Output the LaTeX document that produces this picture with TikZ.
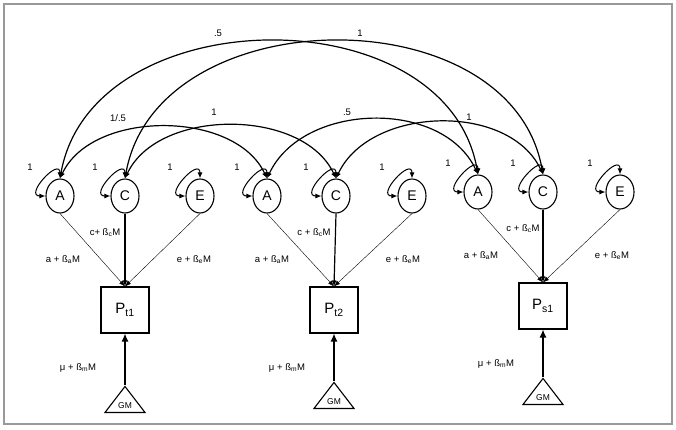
\documentclass[tikz,border=0pt]{standalone}
\usepackage{fontspec}
\setmainfont{Liberation Sans}
\usetikzlibrary{arrows.meta,shapes.geometric}

\tikzset{
  latent/.style={draw, line width=1.1pt, ellipse, minimum width=28pt, minimum height=34pt, inner sep=0pt, font=\fontsize{14}{14}\selectfont},
  pheno/.style={draw, line width=1.1pt, minimum width=48pt, minimum height=46pt, inner sep=0pt, font=\fontsize{15}{15}\selectfont},
  mittel/.style={draw, line width=1.1pt, isosceles triangle, shape border rotate=90, isosceles triangle stretches, minimum width=40pt, minimum height=26pt, inner sep=0pt, font=\fontsize{8.5}{9}\selectfont},
  cov/.style={line width=1.2pt, {Latex[length=6pt,width=5pt]}-{Latex[length=6pt,width=5pt]}},
  duenn/.style={line width=0.4pt, -{Latex[length=6pt,width=4.5pt]}},
  dick/.style={line width=1.2pt, -{Latex[length=6pt,width=5pt]}},
  mw/.style={line width=1.2pt, -{Latex[length=8pt,width=7pt]}},
  lab/.style={inner sep=0pt, font=\fontsize{9.5}{10}\selectfont},
  rahmen/.style={draw=black!40, line width=1.3pt}
}

\begin{document}
\begin{tikzpicture}[x=1pt,y=1pt]
\useasboundingbox (0,0) rectangle (676,-429);
\draw[rahmen] (4,-4) rectangle (672,-424);
% latente Faktoren A, C, E je Person
\foreach \g/\xa/\xc/\xe/\y in {1/60/125/200/196,2/267/336/412/196,3/478/543/620/192}{
  \node[latent] (A\g) at (\xa,-\y) {A};
  \node[latent] (C\g) at (\xc,-\y) {C};
  \node[latent] (E\g) at (\xe,-\y) {E};
}
% Phaenotypen und Mittelwerte
\foreach \g/\x/\y/\yb in {1/125/310/413,2/334/310/409,3/543/306/405}{
  \node[mittel, anchor=south] (GM\g) at (\x,-\yb) {GM};
}
\node[pheno] (P1) at (125,-310) {P\textsubscript{t1}};
\node[pheno] (P2) at (334,-310) {P\textsubscript{t2}};
\node[pheno] (P3) at (543,-306) {P\textsubscript{s1}};
% Varianzen und Pfade
\foreach \g/\cplus in {1/c+,2/c +,3/c +}{
  \foreach \f in {A,C,E}{
    \draw[cov, line width=1pt] (\f\g.west) to[out=180,in=90,distance=22pt] (\f\g.north);
    \path (\f\g) ++(-30,29) node[lab] (v\f\g) {1};
  }
  \draw[duenn] (A\g.south) -- (P\g.north);
  \draw[dick] (C\g.south) -- (P\g.north);
  \draw[duenn] (E\g.south) -- (P\g.north);
  \draw[mw] (GM\g.north) -- (P\g.south);
  \path (P\g) ++(-62,50) node[lab] (la\g) {a + ß\textsubscript{a}M};
  \path (P\g) ++(-20,77) node[lab] (lc\g) {\cplus{} ß\textsubscript{c}M};
  \path (P\g) ++(69,50) node[lab] (le\g) {e + ß\textsubscript{e}M};
  \path (P\g) ++(-47,-58) node[lab] (lm\g) {μ + ß\textsubscript{m}M};
}
% Kovarianzen zwischen den Personen
\draw[cov] (A1.north) to[out=80,in=100,distance=183pt] (A3.north);
\draw[cov] (C1.north) to[out=80,in=100,distance=183pt] (C3.north);
\draw[cov] (A1.north) to[out=65,in=115,distance=76pt] (A2.north);
\draw[cov] (C1.north) to[out=65,in=115,distance=78pt] (C2.north);
\draw[cov] (A2.north) to[out=65,in=115,distance=84pt] (A3.north);
\draw[cov] (C2.north) to[out=65,in=115,distance=80pt] (C3.north);
\node[lab] (k1) at (218,-33) {.5};
\node[lab] (k2) at (360,-33) {1};
\node[lab] (k3) at (118,-118) {1/.5};
\node[lab] (k4) at (214,-112) {1};
\node[lab] (k5) at (347,-112) {.5};
\node[lab] (k6) at (469,-117) {1};
\end{tikzpicture}
\end{document}
